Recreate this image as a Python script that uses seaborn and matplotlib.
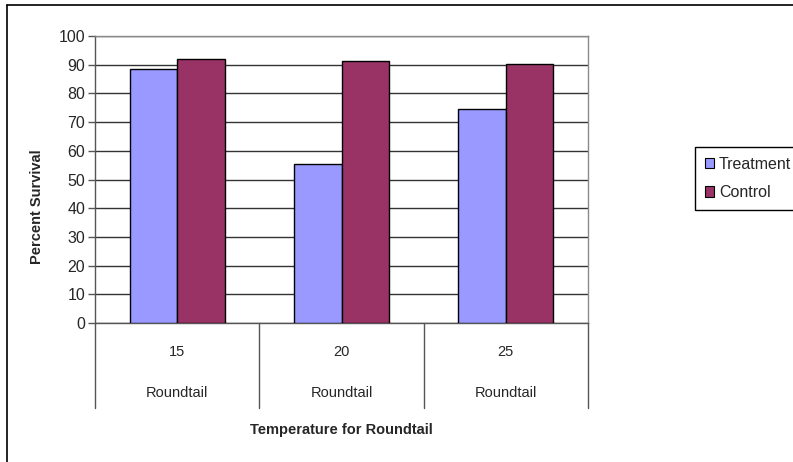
import matplotlib
matplotlib.use("Agg")
import matplotlib.pyplot as plt
import matplotlib.transforms as mtransforms
from matplotlib.lines import Line2D
import pandas as pd
import seaborn as sns

# Survival data by temperature
temperatures = ["15", "20", "25"]
species = ["Roundtail", "Roundtail", "Roundtail"]
treatment = [88.5, 55.5, 74.7]
control = [91.9, 91.2, 90.1]
groups = ["Treatment", "Control"]
colors = ["#9999FF", "#993366"]

df = pd.DataFrame({
    "Temperature": temperatures * 2,
    "Group": [groups[0]] * 3 + [groups[1]] * 3,
    "Survival": treatment + control,
})

sns.set_theme(style="white")
plt.rcParams["font.family"] = ["Liberation Sans", "DejaVu Sans"]

W, H = 793, 462
fig = plt.figure(figsize=(W / 100, H / 100), dpi=100)
left, right, top, bottom = 95, 588, 36, 323
ax = fig.add_axes([left / W, (H - bottom) / H, (right - left) / W, (bottom - top) / H])

sns.barplot(data=df, x="Temperature", y="Survival", hue="Group",
            palette=colors, order=temperatures, hue_order=groups,
            width=0.577, gap=0, edgecolor="black", linewidth=1.0,
            saturation=1, legend=False, ax=ax, zorder=3)

ax.set_xlim(-0.5, 2.5)
ax.set_ylim(0, 100)
ax.set_yticks(range(0, 101, 10))
ax.set_yticklabels([str(v) for v in range(0, 101, 10)], fontsize=11.5)
ax.yaxis.grid(True, color="#333333", linewidth=1.0)
ax.set_axisbelow(True)
ax.tick_params(axis="y", which="both", left=True, length=5, width=1,
               color="#555555", pad=2)
ax.set_xticks([])
ax.set_xlabel("")
ax.set_ylabel("Percent Survival", fontsize=10.5, fontweight="bold")
ax.yaxis.set_label_coords((44 - left) / (right - left), (bottom - 207) / (bottom - top))

for side in ["top", "right"]:
    ax.spines[side].set_color("#8a8a8a")
ax.spines["left"].set_color("#555555")
ax.spines["bottom"].set_color("#555555")
for s in ax.spines.values():
    s.set_linewidth(1.0)

# Category axis: two label rows separated by vertical dividers
trans = mtransforms.blended_transform_factory(ax.transData, ax.transAxes)
ax_h = bottom - top
div_bottom = -(408 - bottom) / ax_h
for xb in [-0.5, 0.5, 1.5, 2.5]:
    ax.plot([xb, xb], [0, div_bottom], transform=trans, color="#555555",
            linewidth=1.0, clip_on=False)
for i, (t, s) in enumerate(zip(temperatures, species)):
    ax.text(i, -(352 - bottom) / ax_h, t, transform=trans, ha="center",
            va="center", fontsize=10.5)
    ax.text(i, -(393 - bottom) / ax_h, s, transform=trans, ha="center",
            va="center", fontsize=10.5)
ax.text(1, -(430 - bottom) / ax_h, "Temperature for Roundtail", transform=trans,
        ha="center", va="center", fontsize=10.5, fontweight="bold")

# Legend
handles = [plt.Rectangle((0, 0), 1, 1, facecolor=c, edgecolor="black", linewidth=0.8)
           for c in colors]
leg = fig.legend(handles, groups, loc="upper left",
                 bbox_to_anchor=(695 / W, (H - 147) / H),
                 frameon=True, fancybox=False, framealpha=1, edgecolor="black",
                 fontsize=11.5, handlelength=0.6, handleheight=0.6,
                 handletextpad=0.3, labelspacing=0.85, borderpad=0.6,
                 borderaxespad=0)
leg.get_frame().set_linewidth(1.0)

# Chart area border
fig.add_artist(Line2D([7 / W, 7 / W], [0, (H - 5) / H], color="black", linewidth=1.2))
fig.add_artist(Line2D([7 / W, 1], [(H - 5) / H, (H - 5) / H], color="black", linewidth=1.2))

fig.savefig("out.png", dpi=100)
